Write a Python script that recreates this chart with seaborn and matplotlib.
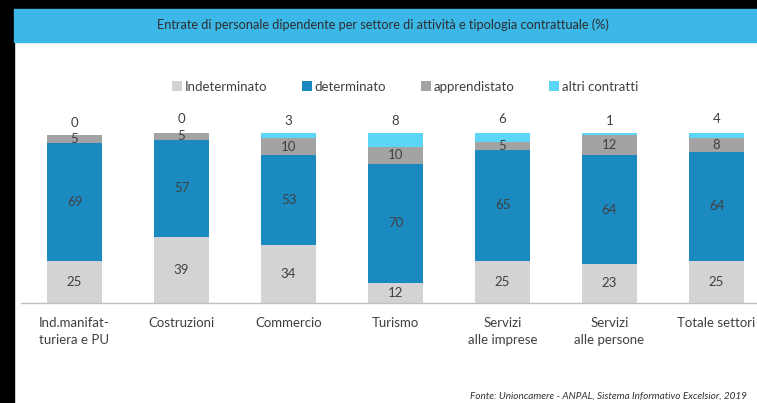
import numpy as np
import pandas as pd
import matplotlib
matplotlib.use("Agg")
import matplotlib.pyplot as plt
from matplotlib.patches import Rectangle
from matplotlib.lines import Line2D
import seaborn as sns

categories = ["Ind.manifat-\nturiera e PU", "Costruzioni", "Commercio", "Turismo",
              "Servizi\nalle imprese", "Servizi\nalle persone", "Totale settori"]
indeterminato = [25, 39, 34, 12, 25, 23, 25]
determinato = [69, 57, 53, 70, 65, 64, 64]
apprendistato = [5, 5, 10, 10, 5, 12, 8]
altri = [0, 0, 3, 8, 6, 1, 4]
series_names = ["Indeterminato", "determinato", "apprendistato", "altri contratti"]
colors = ["#D3D3D3", "#1A8AC0", "#A3A3A3", "#5CD6F7"]

title = "Entrate di personale dipendente per settore di attività e tipologia contrattuale (%)"
source = "Fonte: Unioncamere - ANPAL, Sistema Informativo Excelsior, 2019"

sns.set_style("white")
plt.rcParams["font.family"] = ["Lato", "DejaVu Sans"]
txt = "#404040"

W, H = 757, 403
fig = plt.figure(figsize=(W / 100, H / 100), dpi=100)
fig.patch.set_facecolor("white")

# frame decorations
fig.add_artist(Rectangle((0, 0), 14 / W, 1, transform=fig.transFigure, color="black", zorder=0))
fig.add_artist(Rectangle((0, 1 - 8 / H), 1, 8 / H, transform=fig.transFigure, color="black", zorder=0))
fig.add_artist(Rectangle((14 / W, 1 - 42 / H), 1, 33 / H, transform=fig.transFigure,
                         color="#3BB7E8", zorder=1))
fig.text(383 / W, 1 - 25 / H, title, ha="center", va="center", fontsize=9.2, color="#2F2F2F")

ax = fig.add_axes([21 / W, 1 - 303 / H, 749 / W, 170 / H])

df = pd.DataFrame({"cat": categories, "ind": indeterminato, "det": determinato,
                   "app": apprendistato, "alt": altri})
df["c1"] = df["ind"]
df["c2"] = df["c1"] + df["det"]
df["c3"] = df["c2"] + df["app"]
df["c4"] = df["c3"] + df["alt"]

width = 55 / 107
for col, color in zip(["c4", "c3", "c2", "c1"], colors[::-1]):
    sns.barplot(data=df, x="cat", y=col, color=color, width=width, ax=ax,
                saturation=1, linewidth=0, order=categories)

ax.set_xlim(-0.5, len(categories) - 0.5)
ax.set_ylim(0, 100)
ax.set_xlabel("")
ax.set_ylabel("")
ax.set_yticks([])
for s in ["top", "left", "right"]:
    ax.spines[s].set_visible(False)
ax.spines["bottom"].set_color("#BFBFBF")
ax.spines["bottom"].set_linewidth(1)
ax.set_xticks(range(len(categories)))
ax.set_xticklabels(categories, fontsize=9.5, color=txt, linespacing=1.5)
ax.tick_params(axis="x", which="major", length=0, pad=10)
ax.set_xticks(np.arange(-0.5, len(categories), 1), minor=True)
ax.tick_params(axis="x", which="minor", length=4, color="#BFBFBF", direction="out")
ax.patch.set_alpha(0)

# labels
for i in range(len(categories)):
    segs = [(0, df["c1"][i]), (df["c1"][i], df["c2"][i]), (df["c2"][i], df["c3"][i])]
    vals = [indeterminato[i], determinato[i], apprendistato[i]]
    for (a, b), v in zip(segs, vals):
        ax.text(i, (a + b) / 2, str(v), ha="center", va="center", fontsize=9.5, color=txt)
    ax.text(i, df["c4"][i] + 3.5, str(altri[i]), ha="center", va="bottom", fontsize=9.5,
            color=txt, clip_on=False)

handles = [Line2D([], [], marker="s", linestyle="", markersize=7, markerfacecolor=c,
                  markeredgewidth=0) for c in colors]
fig.legend(handles, series_names, loc="center", bbox_to_anchor=(405 / W, 1 - 87 / H),
           ncol=4, frameon=False, fontsize=9.5, handlelength=0.8, handletextpad=0.2,
           columnspacing=2.6, labelcolor=txt)

fig.text(470 / W, 1 - 396 / H, source, ha="left", va="center", fontsize=7.2,
         style="italic", color="#333333")

fig.savefig("out.png", dpi=100, facecolor="white")
